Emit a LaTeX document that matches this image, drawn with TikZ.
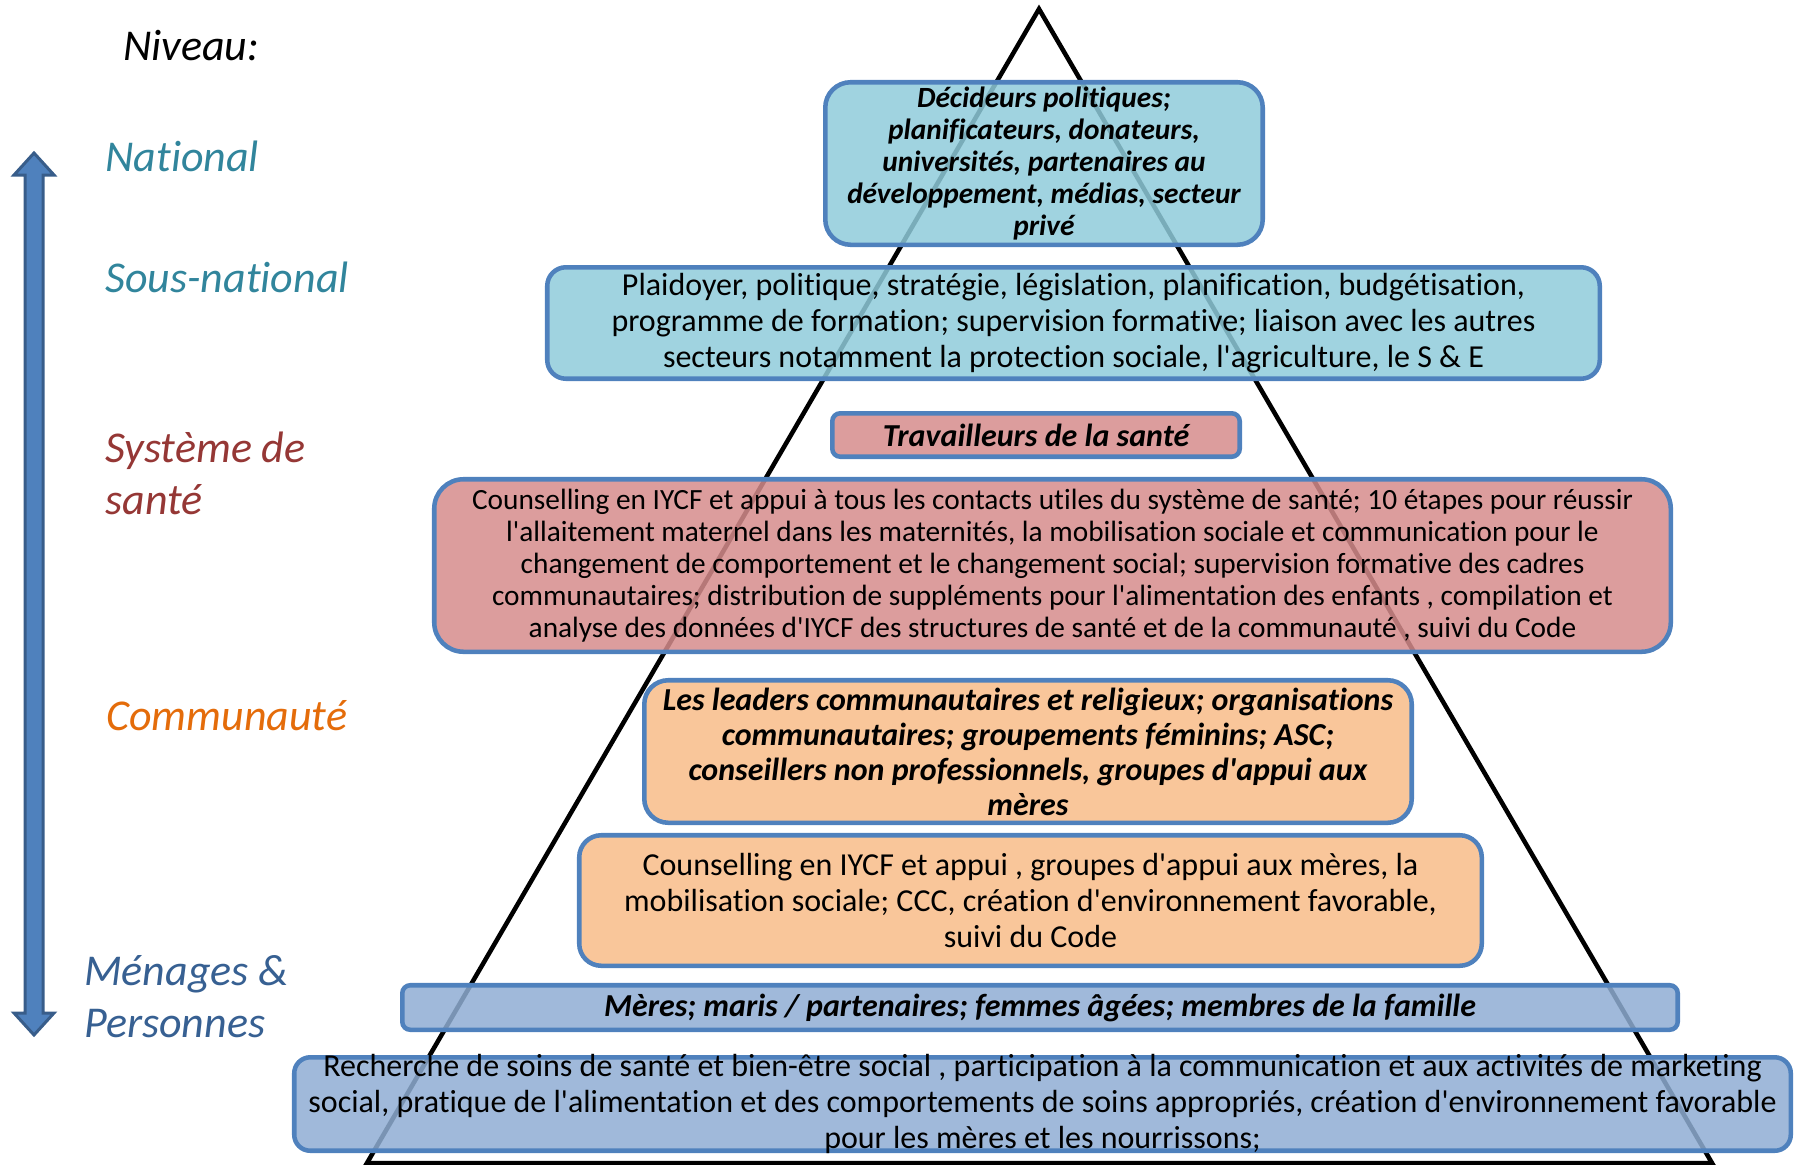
\documentclass[tikz,border=0pt]{standalone}
\usepackage{fontspec}
\setmainfont{Carlito}[Ligatures=NoCommon]
\newfontfamily\calib{Carlito}[Ligatures=NoCommon]
\definecolor{bordc}{RGB}{79,129,189}
\definecolor{arrdark}{RGB}{56,93,138}
\definecolor{lblue}{RGB}{143,203,218}
\definecolor{lpink}{RGB}{214,140,140}
\definecolor{lorange}{RGB}{248,188,136}
\definecolor{lbar}{RGB}{143,173,211}
\definecolor{cteal}{RGB}{49,133,156}
\definecolor{cred}{RGB}{149,55,53}
\definecolor{corange}{RGB}{228,108,10}
\definecolor{cblue}{RGB}{55,96,146}
\begin{document}
\begin{tikzpicture}[x=0.75pt,y=-0.75pt,
  box/.style={draw=bordc, line width=3.4pt, fill opacity=0.85, text opacity=1,
    inner sep=0pt, align=center, rectangle},
  bigtxt/.style={font=\calib\fontsize{24}{27}\selectfont},
  smalltxt/.style={font=\calib\fontsize{22}{24}\selectfont},
  bigbi/.style={font=\calib\fontsize{24}{26.25}\selectfont\bfseries\itshape},
  smallbi/.style={font=\calib\fontsize{22}{24}\selectfont\bfseries\itshape},
  lvl/.style={anchor=base west, align=left, inner sep=0pt, font=\calib\fontsize{33}{38.6}\selectfont\itshape}
]
\useasboundingbox (0,0) rectangle (1794,1164);

% pyramid
\coordinate (apex) at (1039,9);
\coordinate (bl) at (367,1163);
\coordinate (br) at (1712,1163);
\draw[line width=3.4pt, line join=miter] (bl) -- (apex) -- (br) -- cycle;

% level arrow
\draw[fill=bordc, draw=arrdark, line width=2.25pt, line join=miter]
  (34,153) -- (54,175) -- (43,175) -- (43,1013) -- (54,1013) -- (34,1035)
  -- (14,1013) -- (25,1013) -- (25,175) -- (14,175) -- cycle;

% level labels
\node[lvl] (niveau) at (123,60) {Niveau:};
\node[lvl, text=cteal] (national) at (105,171) {National};
\node[lvl, text=cteal] (sousnat) at (105,292) {Sous-national};
\node[lvl, text=cred] (systeme) at (105,514) {Système de\\santé};
\node[lvl, text=corange] (commu) at (106,730) {Communauté};
\node[lvl, text=cblue] (menages) at (84,1037) {Ménages \&\\Personnes};

% boxes
\node[box, fill=lblue, rounded corners=19pt, minimum width=328.1pt, minimum height=121.9pt, smallbi]
  (decideurs) at (1044,163.5)
  {Décideurs politiques;\\planificateurs, donateurs,\\universités, partenaires au\\développement, médias, secteur\\privé};

\node[box, fill=lblue, rounded corners=14pt, minimum width=789.4pt, minimum height=83.6pt, bigtxt]
  (plaidoyer) at (1073.5,323)
  {Plaidoyer, politique, stratégie, législation, planification, budgétisation,\\programme de formation; supervision formative; liaison avec les autres\\secteurs notamment la protection sociale, l'agriculture, le S \& E};

\node[box, fill=lpink, rounded corners=6pt, minimum width=305.6pt, minimum height=32.6pt, bigbi]
  (travailleurs) at (1036,435) {Travailleurs de la santé};

\node[box, fill=lpink, rounded corners=22pt, minimum width=927.4pt, minimum height=129.4pt, smalltxt]
  (sante) at (1052.5,565.5)
  {Counselling en IYCF et appui à tous les contacts utiles du système de santé; 10 étapes pour réussir\\l'allaitement maternel dans les maternités, la mobilisation sociale et communication pour le\\changement de comportement et le changement social; supervision formative des cadres\\communautaires; distribution de suppléments pour l'alimentation des enfants , compilation et\\analyse des données d'IYCF des structures de santé et de la communauté , suivi du Code};

\node[box, fill=lorange, rounded corners=18pt, minimum width=575.6pt, minimum height=106.9pt, bigbi]
  (leaders) at (1028,751.5)
  {Les leaders communautaires et religieux; organisations\\communautaires; groupements féminins; ASC;\\conseillers non professionnels, groupes d'appui aux\\mères};

\node[box, fill=lorange, rounded corners=16.5pt, minimum width=676.9pt, minimum height=97.9pt, bigtxt]
  (commact) at (1030.5,900.5)
  {Counselling en IYCF et appui , groupes d'appui aux mères, la\\mobilisation sociale; CCC, création d'environnement favorable,\\suivi du Code};

\node[box, fill=lbar, rounded corners=6pt, minimum width=956.6pt, minimum height=33.4pt, bigbi]
  (meres) at (1040,1007.5)
  {Mères; maris / partenaires; femmes âgées; membres de la famille};

\node[box, fill=lbar, rounded corners=12pt, minimum width=1122.4pt, minimum height=70.1pt, inner ysep=-5pt, bigtxt]
  (recherche) at (1042.5,1104)
  {Recherche de soins de santé et bien-être social , participation à la communication et aux activités de marketing\\social, pratique de l'alimentation et des comportements de soins appropriés, création d'environnement favorable\\pour les mères et les nourrissons;};
\end{tikzpicture}
\end{document}
